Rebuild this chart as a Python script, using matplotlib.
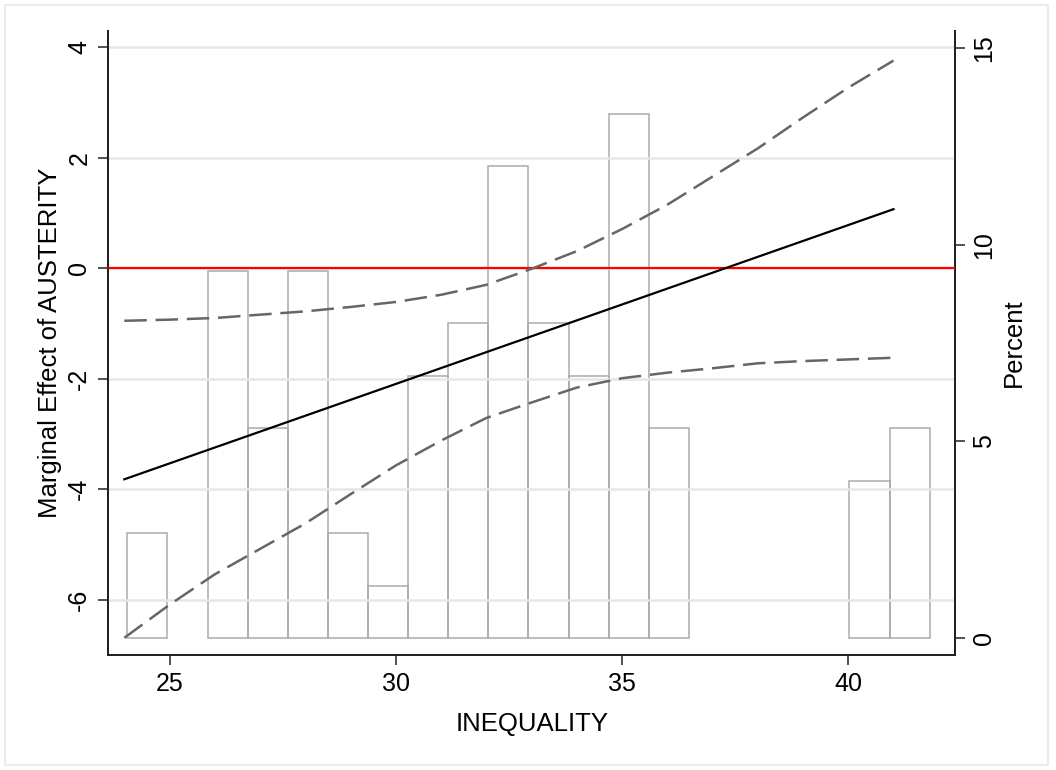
import numpy as np
import matplotlib
matplotlib.use("Agg")
import matplotlib.pyplot as plt
from matplotlib.patches import Rectangle

plt.rcParams['font.family'] = ['Liberation Sans', 'DejaVu Sans']
plt.rcParams['axes.unicode_minus'] = False

# marginal effect (solid line), read at the two ends
me_x = [24.0, 41.0]
me_y = [-3.82, 1.07]

# 95% confidence bounds (dashed)
ci_x = [24, 25, 26, 27, 28, 29, 30, 31, 32, 33, 34, 35, 36, 37, 38, 39, 40, 41]
ci_upper = [-0.95, -0.93, -0.90, -0.84, -0.78, -0.70, -0.61, -0.48, -0.30,
            -0.01, 0.31, 0.71, 1.15, 1.66, 2.17, 2.73, 3.27, 3.76]
ci_lower = [-6.69, -6.09, -5.54, -5.08, -4.62, -4.09, -3.57, -3.12, -2.71,
            -2.43, -2.16, -1.99, -1.89, -1.81, -1.72, -1.68, -1.65, -1.62]

# histogram of INEQUALITY (percent per bin, 20 bins)
hist_lo, hist_hi = 24.065, 41.80
hist_pct = [2.67, 0, 9.33, 5.33, 9.33, 2.67, 1.33, 6.67, 8.0, 12.0,
            8.0, 6.67, 13.33, 5.33, 0, 0, 0, 0, 4.0, 5.33]

x_ticks = [25, 30, 35, 40]
left_ticks = [-6, -4, -2, 0, 2, 4]
right_ticks = [0, 5, 10, 15]


def main():
    fig = plt.figure(figsize=(10.56, 7.70), dpi=100)
    fig.patches.append(Rectangle((5 / 1056, 5 / 770), 1043 / 1056, 760 / 770,
                                 transform=fig.transFigure, fill=False,
                                 edgecolor='#e8e8e8', lw=1.2))
    ax = fig.add_axes([0.1023, 0.1494, 0.8025, 0.8103])
    ax2 = ax.twinx()

    # histogram on the right axis
    edges = np.linspace(hist_lo, hist_hi, len(hist_pct) + 1)
    for left, right, h in zip(edges[:-1], edges[1:], hist_pct):
        if h > 0:
            ax2.bar(left, h, width=right - left, align='edge', fill=False,
                    edgecolor='#ababab', lw=1.1)
    ax2.set_ylim(-0.432, 15.43)
    ax2.set_yticks(right_ticks)
    ax2.set_ylabel("Percent", fontsize=18.5, labelpad=4)

    # lines on the left axis, drawn above the histogram
    ax.set_zorder(ax2.get_zorder() + 1)
    ax.patch.set_visible(False)
    ax.axhline(0, color='#ff0000', lw=1.6, zorder=3)
    ax.plot(me_x, me_y, color='black', lw=1.6, zorder=4)
    ax.plot(ci_x, ci_upper, color='#666666', lw=1.8, ls=(0, (9, 3.5)), zorder=4)
    ax.plot(ci_x, ci_lower, color='#666666', lw=1.8, ls=(0, (9, 3.5)), zorder=4)

    ax.set_xlim(23.64, 42.37)
    ax.set_ylim(-7.0, 4.295)
    ax.set_xticks(x_ticks)
    ax.set_yticks(left_ticks)
    ax.grid(axis='y', color='#e6e6e6', lw=1.8)
    ax.set_axisbelow(True)
    ax.set_xlabel("INEQUALITY", fontsize=18.5, labelpad=12)
    ax.set_ylabel("Marginal Effect of AUSTERITY", fontsize=18.5, labelpad=4)

    for a in (ax, ax2):
        a.spines['top'].set_visible(False)
        for s in ('left', 'right', 'bottom'):
            a.spines[s].set_color('#222222')
            a.spines[s].set_linewidth(1.4)
        a.tick_params(length=7, width=1.1, colors='#222222', labelsize=18,
                      labelcolor='black', pad=5)
        a.tick_params(axis='y', labelrotation=90)
        for lab in a.get_yticklabels():
            lab.set_va('center')

    fig.savefig("out.png", dpi=100)
    plt.close(fig)


if __name__ == "__main__":
    main()
